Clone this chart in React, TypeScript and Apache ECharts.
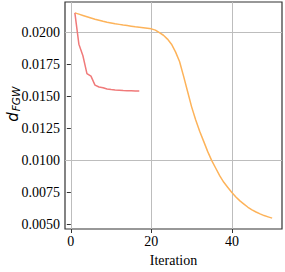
import React, { useEffect, useRef } from "react";
import * as echarts from "echarts";

const iterationsOrange: number[] = Array.from({ length: 50 }, (_, i) => i + 1);
const valuesOrange: number[] = [
  0.02155, 0.02145, 0.02135, 0.02125, 0.02115, 0.02105, 0.02097, 0.02089, 0.02082, 0.02076,
  0.0207, 0.02065, 0.0206, 0.02056, 0.02051, 0.02046, 0.02042, 0.02038, 0.02034, 0.0203,
  0.0202, 0.02, 0.0198, 0.0195, 0.0191, 0.0185, 0.01775, 0.0166, 0.0154, 0.0142,
  0.0132, 0.0123, 0.0115, 0.0107, 0.01, 0.0094, 0.0088, 0.0083, 0.0079, 0.0075,
  0.00715, 0.00685, 0.0066, 0.00635, 0.00615, 0.00598, 0.00583, 0.0057, 0.0056, 0.0055,
];
const iterationsRed: number[] = Array.from({ length: 17 }, (_, i) => i + 1);
const valuesRed: number[] = [
  0.02155, 0.0191, 0.0182, 0.0168, 0.0166, 0.0159, 0.01575, 0.0157, 0.0156, 0.01555,
  0.01552, 0.0155, 0.01548, 0.01547, 0.01546, 0.01545, 0.01545,
];
const xTicks: number[] = [0, 20, 40];
const yTicks: number[] = [0.005, 0.0075, 0.01, 0.0125, 0.015, 0.0175, 0.02];

export default function App() {
  const ref = useRef<HTMLDivElement>(null);
  useEffect(() => {
    const chart = echarts.init(ref.current!, null, { renderer: "svg" });
    const serif = "Liberation Serif";
    chart.setOption({
      animation: false,
      grid: {
        left: 65,
        top: 2,
        right: 3,
        bottom: 35,
        show: true,
        borderColor: "#333",
        borderWidth: 1.2,
        backgroundColor: "transparent",
      },
      xAxis: {
        type: "value",
        min: -1.45,
        max: 52.45,
        axisLine: { show: false },
        axisTick: { show: true, customValues: xTicks, length: 4, lineStyle: { color: "#333", width: 1 } },
        splitLine: { show: false },
        axisLabel: {
          show: true,
          customValues: xTicks,
          fontFamily: serif,
          fontSize: 14,
          color: "#000",
          margin: 5,
        },
        name: "Iteration",
        nameLocation: "middle",
        nameGap: 24,
        nameTextStyle: { fontFamily: serif, fontSize: 14, color: "#000" },
      },
      yAxis: {
        type: "value",
        min: 0.00465,
        max: 0.0224,
        axisLine: { show: false },
        axisTick: { show: true, customValues: yTicks, length: 4, lineStyle: { color: "#333", width: 1 } },
        splitLine: { show: false },
        axisLabel: {
          show: true,
          customValues: yTicks,
          formatter: (v: number) => v.toFixed(4),
          fontFamily: serif,
          fontSize: 14,
          color: "#000",
          margin: 5,
        },
      },
      graphic: [
        {
          type: "text",
          x: 13,
          y: 117,
          rotation: Math.PI / 2,
          style: { text: "d", fontFamily: "DejaVu Sans", fontStyle: "italic", fontSize: 15, fill: "#000", align: "center", verticalAlign: "middle" },
        },
        {
          type: "text",
          x: 16,
          y: 99,
          rotation: Math.PI / 2,
          style: { text: "FGW", fontFamily: "DejaVu Sans", fontStyle: "italic", fontSize: 10.5, fill: "#000", align: "center", verticalAlign: "middle" },
        },
      ],
      series: [
        {
          type: "line",
          data: iterationsOrange.map((x, i) => [x, valuesOrange[i]]),
          showSymbol: false,
          lineStyle: { color: "#fdb35a", width: 1.5 },
          z: 3,
          markLine: {
            silent: true,
            symbol: "none",
            label: { show: false },
            lineStyle: { color: "#bdbdbd", width: 1, type: "solid" },
            data: [
              ...xTicks.map((t) => ({ xAxis: t })),
              ...yTicks.map((t) => ({ yAxis: t })),
            ],
            z: 1,
          },
        },
        {
          type: "line",
          data: iterationsRed.map((x, i) => [x, valuesRed[i]]),
          showSymbol: false,
          lineStyle: { color: "#f07a7a", width: 1.5 },
          z: 4,
        },
      ],
    });

    return () => chart.dispose();
  }, []);
  return <div ref={ref} style={{ width: 285, height: 272, position: "absolute", left: 0, top: 0 }} />;
}
